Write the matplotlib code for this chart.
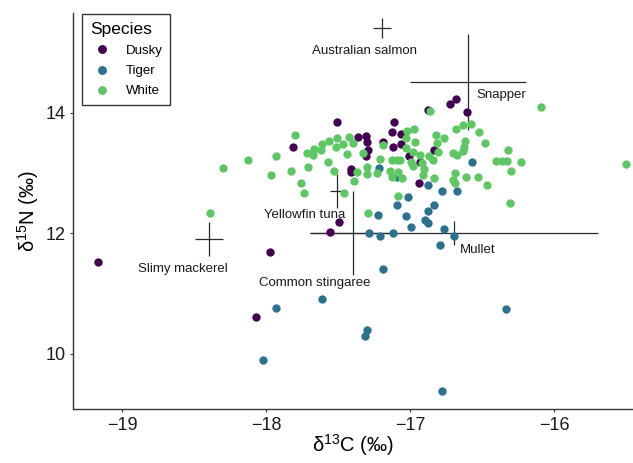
import matplotlib
matplotlib.use("Agg")
import matplotlib.pyplot as plt
from matplotlib.lines import Line2D

plt.rcParams['font.family'] = ['Liberation Sans', 'DejaVu Sans']

# ---------------- data ----------------
species = ["Dusky", "Tiger", "White"]
colors = ["#440154", "#2C728E", "#5DC863"]

dusky_x = [-19.169, -17.974, -18.072, -17.558, -17.495, -17.815, -17.509, -17.363, -17.412, -17.412,
           -17.308, -17.301, -17.294, -17.308, -17.190, -17.127, -17.113, -17.120, -17.065, -17.065,
           -17.009, -16.933, -16.940, -16.835, -16.877, -16.724, -16.682, -16.606]
dusky_y = [11.52, 11.69, 10.61, 12.02, 12.19, 13.43, 13.85, 13.60, 13.07, 13.02,
           13.61, 13.51, 13.38, 13.28, 13.51, 13.68, 13.85, 13.43, 13.65, 13.48,
           13.28, 13.18, 12.83, 13.38, 14.04, 14.14, 14.23, 14.01]

tiger_x = [-17.933, -17.613, -18.023, -17.217, -17.092, -17.016, -17.092, -17.224, -17.030, -16.995,
           -17.287, -17.210, -17.120, -17.190, -16.877, -16.835, -16.877, -16.898, -16.877, -16.780,
           -16.676, -16.766, -16.697, -16.793, -16.572, -16.335, -17.301, -17.315, -16.780]
tiger_y = [10.76, 10.91, 9.90, 13.08, 12.93, 12.60, 12.47, 12.30, 12.29, 12.10,
           12.00, 11.95, 12.00, 11.41, 12.80, 12.47, 12.37, 12.22, 12.17, 12.70,
           12.70, 12.07, 11.95, 11.81, 13.18, 10.74, 10.40, 10.30, 9.38]

white_x = [-18.391, -18.301, -18.126, -17.933, -17.967, -17.801, -17.829, -17.710, -17.759, -17.738,
           -17.717, -17.675, -17.669, -17.620, -17.613, -17.565, -17.572, -17.530, -17.509, -17.516,
           -17.460, -17.391, -17.467, -17.426, -17.398, -17.440, -17.328, -17.370, -17.301, -17.301,
           -17.231, -17.210, -17.190, -17.127, -17.141, -17.127, -17.092, -17.072, -17.085, -17.058,
           -17.085, -17.030, -17.023, -16.974, -17.030, -16.995, -16.981, -16.967, -16.981, -16.919,
           -16.933, -16.905, -16.912, -16.870, -16.821, -16.814, -16.808, -16.766, -16.842, -16.835,
           -16.863, -16.682, -16.634, -16.578, -16.523, -16.481, -16.620, -16.627, -16.634, -16.703,
           -16.676, -16.690, -16.703, -16.690, -16.613, -16.530, -16.467, -16.405, -16.363, -16.328,
           -16.321, -16.231, -16.300, -16.307, -16.092, -15.502, -17.294]
white_y = [12.34, 13.08, 13.22, 13.28, 12.97, 13.63, 13.03, 13.10, 12.83, 12.67,
           13.33, 13.30, 13.40, 13.38, 13.48, 13.53, 13.18, 13.03, 13.58, 13.43,
           12.67, 12.87, 13.48, 13.60, 13.50, 13.32, 13.33, 13.02, 13.10, 12.98,
           13.00, 13.23, 13.46, 13.22, 13.03, 12.93, 13.22, 13.22, 13.02, 12.92,
           12.62, 13.58, 13.70, 13.73, 13.41, 13.18, 13.35, 13.51, 13.12, 13.17,
           13.30, 13.07, 12.97, 13.28, 13.63, 13.50, 13.35, 13.58, 13.21, 12.92,
           14.03, 13.73, 13.80, 13.81, 13.68, 13.50, 13.53, 13.43, 13.36, 13.33,
           13.30, 13.00, 12.88, 12.83, 12.93, 12.93, 12.80, 13.20, 13.20, 13.20,
           13.38, 13.18, 13.03, 12.50, 14.09, 13.15, 12.34]

prey = ["Australian salmon", "Snapper", "Yellowfin tuna", "Slimy mackerel", "Common stingaree", "Mullet"]
prey_x = [-17.199, -16.599, -17.509, -18.398, -17.398, -16.697]
prey_y = [15.40, 14.51, 12.70, 11.905, 12.005, 12.005]
prey_xsd = [0.0625, 0.40, 0.045, 0.10, 0.30, 1.00]
prey_ysd = [0.166, 0.80, 0.28, 0.29, 0.70, 0.20]
label_x = [-17.315, -16.366, -17.736, -18.58, -17.66, -16.53]
label_y = [15.02, 14.30, 12.31, 11.41, 11.17, 11.73]

xticks = [-19, -18, -17, -16]
yticks = [10, 12, 14]

# ---------------- plot ----------------
W, H = 633, 463
fig = plt.figure(figsize=(W / 100, H / 100), dpi=100)
ax = fig.add_axes([73 / W, (H - 409) / H, 1 - 73 / W, (409 - 13) / H])

ax.errorbar(prey_x, prey_y, xerr=prey_xsd, yerr=prey_ysd, fmt='none',
            ecolor='#2b2b2b', elinewidth=0.9, capsize=0, zorder=1)
for name, lx, ly in zip(prey, label_x, label_y):
    ax.text(lx, ly, name, ha='center', va='center', fontsize=9.5, color='#1a1a1a', zorder=4)

series = [(dusky_x, dusky_y), (tiger_x, tiger_y), (white_x, white_y)]
for (xs, ys), c in zip(series, colors):
    ax.scatter(xs, ys, s=36, color=c, linewidths=0, zorder=3)

ax.set_xlim(-19.342, -15.453)
ax.set_ylim(9.086, 15.653)
ax.set_xticks(xticks)
ax.set_xticklabels([f"\u2212{abs(t)}" for t in xticks])
ax.set_yticks(yticks)
ax.set_yticklabels([str(t) for t in yticks])

for s in ['top', 'right']:
    ax.spines[s].set_visible(False)
for s in ['left', 'bottom']:
    ax.spines[s].set_color('#333333')
    ax.spines[s].set_linewidth(1.0)
ax.tick_params(axis='both', length=2.5, width=0.8, color='#333333',
               labelsize=13, labelcolor='#1a1a1a', pad=3)

ax.set_xlabel(r'$\mathregular{\delta^{13}}$C (‰)', fontsize=14.5, labelpad=-1)
ax.set_ylabel(r'$\mathregular{\delta^{15}}$N (‰)', fontsize=14.5, labelpad=3)

handles = [Line2D([0], [0], marker='o', linestyle='none', markersize=6.4,
                  markerfacecolor=c, markeredgewidth=0) for c in colors]
leg = fig.legend(handles, species, title="Species", loc='upper left',
                 bbox_to_anchor=(82 / W, 1 - 14 / H), borderaxespad=0,
                 frameon=True, fancybox=False,
                 fontsize=9.5, title_fontsize=12.5, handletextpad=0.9,
                 labelspacing=0.6, borderpad=0.6, handlelength=1.8,
                 alignment='left')
leg.get_frame().set_edgecolor('black')
leg.get_frame().set_linewidth(1.0)

fig.savefig("out.png", dpi=100)
